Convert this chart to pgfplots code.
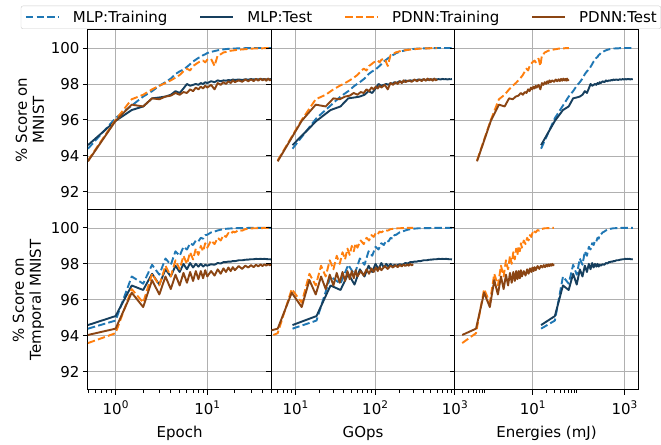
\documentclass[border=0pt]{standalone}
\usepackage{fontspec}
\setmainfont{DejaVu Sans}
\usepackage{pgfplots}
\pgfplotsset{compat=1.18}
\usepackage{pgfplotstable}
\usepgfplotslibrary{groupplots}

\definecolor{tabblue}{HTML}{1F77B4}
\definecolor{taborange}{HTML}{FF7F0E}
\definecolor{navy}{HTML}{163F5E}
\definecolor{brownish}{HTML}{8B4513}
\definecolor{gridgrey}{HTML}{B0B0B0}
\definecolor{legendgrey}{HTML}{CCCCCC}

\newcommand\lblfont{\fontsize{15bp}{17bp}\selectfont}
\newcommand\tickfont{\fontsize{15bp}{17bp}\selectfont}
\newcommand\tp[1]{10\raisebox{0.42em}{\fontsize{10.5bp}{10.5bp}\selectfont #1}}

% ep = epoch, gops / mj = the same run against GOps and energy
\pgfplotstableread{
ep   gops  mj     trM   teM   trT   teT
0.5  9.2   15.2   94.4  94.6  94.4  94.6
1    18.4  30.4   96.1  95.95 94.85 95.1
1.5  27.6  45.6   96.8  96.55 97.3  96.8
2    36.8  60.8   97.3  96.75 96.9  96.55
2.5  46    76     97.6  97.2  97.95 97.45
3    55.2  91.2   97.9  97.25 97.4  96.85
3.5  64.4  106.4  98.1  97.3  98.3  97.7
4    73.6  121.6  98.3  97.4  97.95 97.3
4.5  82.8  136.8  98.55 97.6  98.7  97.9
5    92    152    98.7  97.5  98.45 97.55
5.5  101.2 167.2  98.8  97.75 98.95 98.0
6    110.4 182.4  98.95 98.0  98.8  97.7
6.5  119.6 197.6  99.1  97.9  99.15 98.05
7    128.8 212.8  99.25 97.95 99.05 97.8
7.5  138   228    99.35 98.0  99.3  98.0
8    147.2 243.2  99.45 97.95 99.25 97.85
8.5  156.4 258.4  99.5  98.05 99.45 98.0
9    165.6 273.6  99.6  98.0  99.4  97.85
9.5  174.8 288.8  99.65 98.1  99.6  97.95
10   184   304    99.72 98.05 99.62 97.9
11   202.4 334.4  99.78 98.15 99.75 97.98
12   220.8 364.8  99.83 98.1  99.8  97.95
13   239.2 395.2  99.87 98.2  99.86 98.05
14   257.6 425.6  99.9  98.15 99.9  98.02
15   276   456    99.92 98.2  99.93 98.1
16   294.4 486.4  99.94 98.18 99.95 98.1
17   312.8 516.8  99.95 98.22 99.96 98.13
18   331.2 547.2  99.96 98.2  99.97 98.12
19   349.6 577.6  99.97 98.25 99.98 98.16
20   368   608    99.97 98.22 99.98 98.15
22   404.8 668.8  99.98 98.25 99.99 98.2
24   441.6 729.6  99.98 98.22 99.99 98.2
26   478.4 790.4  99.99 98.26 99.99 98.23
28   515.2 851.2  99.99 98.24 100   98.24
30   552   912    99.99 98.27 100   98.26
32   588.8 972.8  100   98.25 100   98.26
34   625.6 1033.6 100   98.27 100   98.28
36   662.4 1094.4 100   98.25 100   98.27
38   699.2 1155.2 100   98.28 100   98.28
40   736   1216   100   98.26 100   98.27
42   772.8 1276.8 100   98.27 100   98.28
44   809.6 1337.6 100   98.25 100   98.27
46   846.4 1398.4 100   98.27 100   98.26
48   883.2 1459.2 100   98.26 100   98.26
50   920   1520   100   98.27 100   98.25
}\mlp

\pgfplotstableread{
ep   gM   mM     gT   mT     trM   teM   trT   teT
0.5  6    0.61   3    0.29   93.75 93.7  93.6  94.05
1    12   1.22   6    0.58   96.0  95.95 94.15 94.4
1.5  18   1.83   9    0.87   97.15 96.85 96.6  96.4
2    24   2.44   12   1.16   97.4  96.75 95.85 95.6
2.5  30   3.05   15   1.45   97.7  97.2  97.45 97.1
3    36   3.66   18   1.74   97.9  97.15 96.8  96.3
3.5  42   4.27   21   2.03   98.05 97.3  97.9  97.3
4    48   4.88   24   2.32   98.2  97.35 97.3  96.6
4.5  54   5.49   27   2.61   98.35 97.5  98.2  97.4
5    60   6.1    30   2.9    98.5  97.4  97.7  96.8
5.5  66   6.71   33   3.19   98.7  97.55 98.45 97.5
6    72   7.32   36   3.48   98.85 97.5  98.0  96.95
6.5  78   7.93   39   3.77   98.75 97.7  98.65 97.55
7    84   8.54   42   4.06   99.0  97.6  98.25 97.05
7.5  90   9.15   45   4.35   99.1  97.8  98.85 97.6
8    96   9.76   48   4.64   99.2  97.7  98.5  97.15
8.5  102  10.37  51   4.93   99.25 97.85 99.0  97.6
9    108  10.98  54   5.22   99.3  97.75 98.7  97.2
9.5  114  11.59  57   5.51   99.2  97.9  99.15 97.65
10   120  12.2   60   5.8    99.35 97.8  98.9  97.3
11   132  13.42  66   6.38   99.4  97.95 99.3  97.6
12   144  14.64  72   6.96   99.0  97.7  99.1  97.35
13   156  15.86  78   7.54   99.6  98.05 99.45 97.7
14   168  17.08  84   8.12   99.65 97.95 99.3  97.45
15   180  18.3   90   8.7    99.75 98.1  99.6  97.75
16   192  19.52  96   9.28   99.78 98.0  99.5  97.55
17   204  20.74  102  9.86   99.82 98.15 99.72 97.8
18   216  21.96  108  10.44  99.85 98.05 99.65 97.6
19   228  23.18  114  11.02  99.86 98.2  99.8  97.82
20   240  24.4   120  11.6   99.88 98.1  99.75 97.65
22   264  26.84  132  12.76  99.9  98.2  99.88 97.88
24   288  29.28  144  13.92  99.92 98.12 99.85 97.72
26   312  31.72  156  15.08  99.93 98.25 99.93 97.9
28   336  34.16  168  16.24  99.95 98.15 99.95 97.8
30   360  36.6   180  17.4   99.96 98.26 99.97 97.93
32   384  39.04  192  18.56  99.97 98.16 99.98 97.82
34   408  41.48  204  19.72  99.97 98.28 99.98 97.95
36   432  43.92  216  20.88  99.98 98.18 99.99 97.86
38   456  46.36  228  22.04  99.98 98.3  99.99 97.97
40   480  48.8   240  23.2   99.98 98.2  99.99 97.88
42   504  51.24  252  24.36  99.99 98.28 100   97.98
44   528  53.68  264  25.52  99.99 98.18 100   97.9
46   552  56.12  276  26.68  99.99 98.3  100   98.0
48   576  58.56  288  27.84  99.99 98.2  100   97.92
50   600  61     300  29     99.99 98.25 100   97.98
}\pdnn

\pgfplotsset{
  legend image code/.code={\draw[#1] (0bp,0bp) -- (33bp,0bp);},
  mlptr/.style={tabblue, line width=1.9bp, dash pattern=on 7.4bp off 3.2bp, line join=round},
  mlpte/.style={navy, line width=1.9bp, line join=round},
  pdtr/.style={taborange, line width=1.9bp, dash pattern=on 7.4bp off 3.2bp, line join=round},
  pdte/.style={brownish, line width=1.9bp, line join=round},
  colE/.style={xmin=0.5, xmax=50, xtick={1,10},
    minor xtick={0.5,0.6,0.7,0.8,0.9,2,3,4,5,6,7,8,9,20,30,40,50},
    xticklabels={\tp{0},\tp{1}}},
  colG/.style={xmin=5, xmax=1000, xtick={10,100,1000},
    minor xtick={5,6,7,8,9,20,30,40,50,60,70,80,90,200,300,400,500,600,700,800,900},
    xticklabels={\tp{1},\tp{2},\tp{3}}, yticklabels={}},
  colJ/.style={xmin=0.2, xmax=2000, xtick={10,1000},
    minor xtick={0.2,0.3,0.4,0.5,0.6,0.7,0.8,0.9,20,30,40,50,60,70,80,90},
    xticklabels={\tp{1},\tp{3}}, yticklabels={}},
}

\begin{document}
\begin{tikzpicture}
\begin{groupplot}[
  group style={group size=3 by 2, horizontal sep=0pt, vertical sep=0pt},
  scale only axis, width=183.5bp, height=180bp,
  xmode=log, log basis x=10,
  ymin=91, ymax=101, ytick={92,94,96,98,100},
  grid=major, major grid style={gridgrey, line width=0.8bp},
  axis line style={line width=1bp},
  tick align=outside, xtick pos=bottom, ytick pos=left,
  major tick length=5bp, minor tick length=3bp,
  tick style={black, line width=0.9bp},
  axis background/.style={fill=white},
  ticklabel style={font=\tickfont},
  xticklabel style={yshift=-2bp},
  label style={font=\lblfont},
  xlabel style={yshift=-5bp},
  /pgf/number format/assume math mode=true,
]
% MNIST row
\nextgroupplot[colE, xticklabels={},
  ylabel={\% Score on\\MNIST}, ylabel style={align=center},
  legend style={at={(1.379,1)}, anchor=south, yshift=1bp, legend columns=4,
    draw=legendgrey, rounded corners=2bp, font=\lblfont,
    inner xsep=4bp, inner ysep=5bp, nodes={inner sep=0bp},
    /tikz/every odd column/.append style={column sep=13bp},
    /tikz/every even column/.append style={column sep=32bp}},
  legend cell align=left]
\addplot[mlptr] table[x=ep, y=trM]{\mlp};
\addplot[mlpte] table[x=ep, y=teM]{\mlp};
\addplot[pdtr] table[x=ep, y=trM]{\pdnn};
\addplot[pdte] table[x=ep, y=teM]{\pdnn};
\legend{MLP:Training, MLP:Test, PDNN:Training, PDNN:Test}

\nextgroupplot[colG, xticklabels={}]
\addplot[mlptr] table[x=gops, y=trM]{\mlp};
\addplot[mlpte] table[x=gops, y=teM]{\mlp};
\addplot[pdtr] table[x=gM, y=trM]{\pdnn};
\addplot[pdte] table[x=gM, y=teM]{\pdnn};

\nextgroupplot[colJ, xticklabels={}]
\addplot[mlptr] table[x=mj, y=trM]{\mlp};
\addplot[mlpte] table[x=mj, y=teM]{\mlp};
\addplot[pdtr] table[x=mM, y=trM]{\pdnn};
\addplot[pdte] table[x=mM, y=teM]{\pdnn};

% Temporal MNIST row
\nextgroupplot[colE, xlabel={Epoch},
  ylabel={\% Score on\\Temporal MNIST}, ylabel style={align=center}]
\addplot[mlptr] table[x=ep, y=trT]{\mlp};
\addplot[mlpte] table[x=ep, y=teT]{\mlp};
\addplot[pdtr] table[x=ep, y=trT]{\pdnn};
\addplot[pdte] table[x=ep, y=teT]{\pdnn};

\nextgroupplot[colG, xlabel={GOps}]
\addplot[mlptr] table[x=gops, y=trT]{\mlp};
\addplot[mlpte] table[x=gops, y=teT]{\mlp};
\addplot[pdtr] table[x=gT, y=trT]{\pdnn};
\addplot[pdte] table[x=gT, y=teT]{\pdnn};

\nextgroupplot[colJ, xlabel={Energies (mJ)}]
\addplot[mlptr] table[x=mj, y=trT]{\mlp};
\addplot[mlpte] table[x=mj, y=teT]{\mlp};
\addplot[pdtr] table[x=mT, y=trT]{\pdnn};
\addplot[pdte] table[x=mT, y=teT]{\pdnn};
\end{groupplot}
\path ([shift={(-88bp,30bp)}]group c1r1.north west)
  rectangle ([shift={(22.5bp,-53bp)}]group c3r2.south east);
\end{tikzpicture}
\end{document}
